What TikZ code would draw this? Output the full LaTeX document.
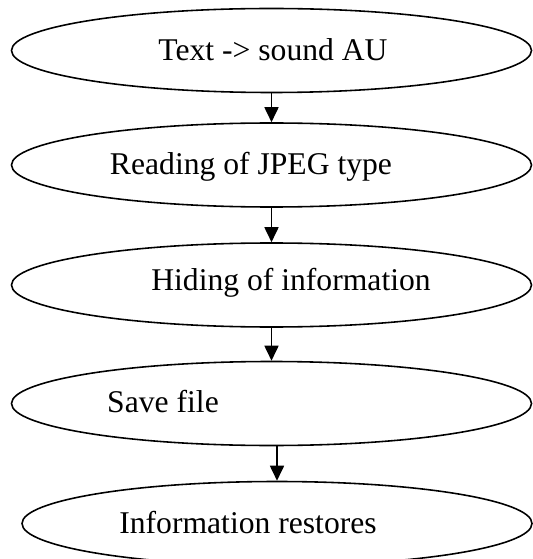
\documentclass[tikz,border=0pt]{standalone}
\usepackage{fontspec}
\setmainfont{Liberation Serif}
\usetikzlibrary{shapes.geometric,arrows.meta}

\begin{document}
\begin{tikzpicture}[align=center]

%\draw[step=1cm] (0,0) grid (11, -12);
\useasboundingbox (0,0) rectangle (10.64,-11.18);

\tikzstyle{stage}=[
	ellipse,
	draw=black,
	line width=0.9pt,
	inner sep=0pt,
	minimum width=10.4cm,
	minimum height=1.68cm
]
\tikzstyle{txt}=[
	anchor=base,
	inner sep=0pt,
	font=\fontsize{18}{21}\selectfont
]
\tikzstyle{arr}=[->, >={Triangle[length=0.3cm,width=0.28cm]}, line width=1pt]

\node[stage] (st1) at (5.43, -1.01) {};
\node[txt] (lb1) at (5.46, -1.22) {Text -> sound AU};
\node[stage] (st2) at (5.43, -3.30) {};
\node[txt] (lb2) at (5.02, -3.50) {Reading of JPEG type};
\node[stage] (st3) at (5.43, -5.70) {};
\node[txt] (lb3) at (5.82, -5.80) {Hiding of information};
\node[stage] (st4) at (5.43, -8.07) {};
\node[txt] (lb4) at (3.26, -8.24) {Save file};
\node[stage, minimum width=10.2cm] (st5) at (5.54, -10.47) {};
\node[txt] (lb5) at (4.96, -10.66) {Information restores};

\draw[arr] (st1.south) -> (st2.north);
\draw[arr] (st2.south) -> (st3.north);
\draw[arr] (st3.south) -> (st4.north);
\draw[arr] (st4.south -| st5.north) -> (st5.north);

\end{tikzpicture}
\end{document}
